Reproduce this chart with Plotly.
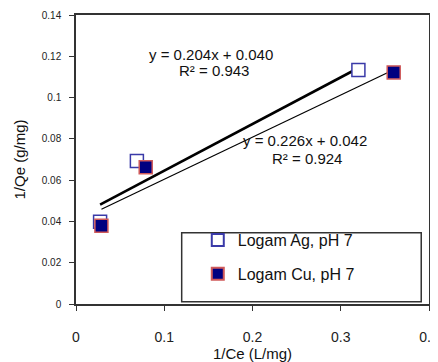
import plotly.graph_objects as go

# Data
ag_x = [0.0273, 0.069, 0.320]
ag_y = [0.0399, 0.0693, 0.1134]
cu_x = [0.0288, 0.079, 0.360]
cu_y = [0.0379, 0.0662, 0.1122]

# Trendline coefficients (slope, intercept) as drawn
ag_trend = [0.226, 0.042]
cu_trend = [0.204, 0.040]

series_names = ["Logam Ag, pH 7", "Logam Cu, pH 7"]
eq_labels = [["y = 0.204x + 0.040", "R² = 0.943"], ["y = 0.226x + 0.042", "R² = 0.924"]]

x_ticks = [0, 0.1, 0.2, 0.3, 0.4]
x_tick_text = ["0", "0.1", "0.2", "0.3", "0.4"]
y_ticks = [0, 0.02, 0.04, 0.06, 0.08, 0.1, 0.12, 0.14]
y_tick_text = ["0", "0.02", "0.04", "0.06", "0.08", "0.1", "0.12", "0.14"]

FONT = "Liberation Sans, Arial, sans-serif"

def trend_xy(xs, coef):
    x0, x1 = min(xs), max(xs)
    return [x0, x1], [coef[0] * x0 + coef[1], coef[0] * x1 + coef[1]]

fig = go.Figure()

tx, ty = trend_xy(ag_x, ag_trend)
fig.add_trace(go.Scatter(x=tx, y=ty, mode="lines", line=dict(color="black", width=2.6),
                         showlegend=False, hoverinfo="skip"))
tx, ty = trend_xy(cu_x, cu_trend)
fig.add_trace(go.Scatter(x=tx, y=ty, mode="lines", line=dict(color="black", width=1.2),
                         showlegend=False, hoverinfo="skip"))

fig.add_trace(go.Scatter(x=ag_x, y=ag_y, mode="markers", name=series_names[0],
                         legendgroup="a",
                         marker=dict(symbol="square", size=13, color="white",
                                     line=dict(color="#3a3aa8", width=1.5))))
fig.add_trace(go.Scatter(x=cu_x, y=cu_y, mode="markers", name=series_names[1],
                         legendgroup="b",
                         marker=dict(symbol="square", size=13, color="#000080",
                                     line=dict(color="#d05a5a", width=1.5))))

# Equation labels (two lines each)
ann = []
lab_xy = [[(0.153, 0.1210), (0.156, 0.1129)], [(0.260, 0.0793), (0.262, 0.0705)]]
for lines, pos in zip(eq_labels, lab_xy):
    for txt, (lx, ly) in zip(lines, pos):
        ann.append(dict(x=lx, y=ly, xref="x", yref="y", text=txt, showarrow=False,
                        font=dict(family=FONT, size=15, color="#111111"),
                        xanchor="center", yanchor="middle"))

# The page body adds an 8px offset; the figure is sized so the plot sits where the reference has it
fig.update_layout(
    width=430, height=354,
    margin=dict(l=68, r=9, t=7, b=58, autoexpand=False),
    paper_bgcolor="white", plot_bgcolor="white",
    font=dict(family=FONT, color="#111111"),
    annotations=ann,
    showlegend=True,
    legend=dict(x=0.345, y=0.28, xanchor="left", yanchor="top",
                bgcolor="rgba(0,0,0,0)", borderwidth=0,
                font=dict(family=FONT, size=16, color="#111111"),
                tracegroupgap=10, itemsizing="constant"),
    shapes=[dict(type="rect", xref="paper", yref="paper",
                 x0=0.2994, x1=0.978, y0=0.008, y1=0.2467,
                 line=dict(color="#333333", width=1.5), fillcolor="white", layer="below")],
    xaxis=dict(range=[0, 0.4], tickvals=x_ticks, ticktext=x_tick_text, automargin=False,
               showgrid=False, zeroline=False, showline=True, linecolor="#333333",
               linewidth=1.5, mirror=True, ticks="outside", ticklen=5, tickcolor="#333333",
               tickfont=dict(family=FONT, size=14, color="#222222"), ticklabelstandoff=14,
               ticklabeloverflow="allow",
               title=dict(text="1/Ce (L/mg)", font=dict(family=FONT, size=15, color="#111111"),
                          standoff=3)),
    yaxis=dict(range=[0, 0.14], tickvals=y_ticks, ticktext=y_tick_text, automargin=False,
               showgrid=False, zeroline=False, showline=True, linecolor="#333333",
               linewidth=1.5, mirror=True, ticks="outside", ticklen=5, tickcolor="#333333",
               tickfont=dict(family=FONT, size=10, color="#222222"), ticklabelstandoff=6,
               title=dict(text="1/Qe (g/mg)", font=dict(family=FONT, size=15, color="#111111"),
                          standoff=13)),
)

fig.write_html("out.html")
